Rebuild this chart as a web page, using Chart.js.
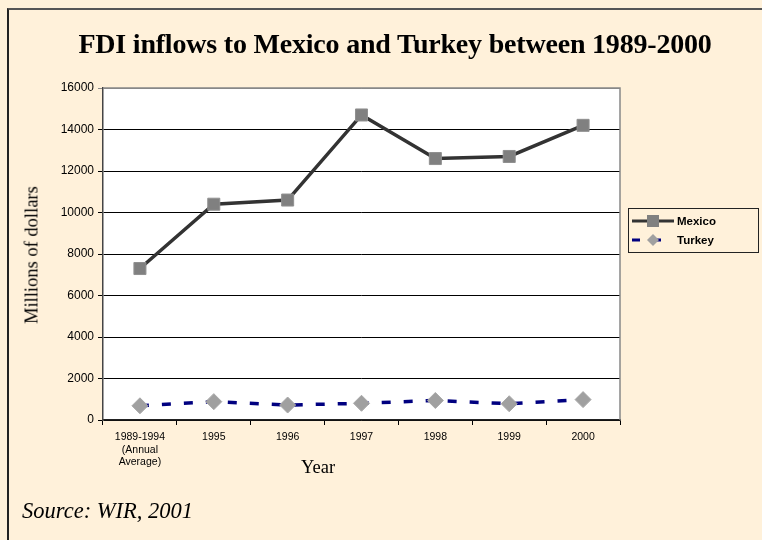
<!DOCTYPE html>
<html>
<head>
<meta charset="utf-8">
<script src="https://cdn.jsdelivr.net/npm/chart.js@4.4.1/dist/chart.umd.min.js"></script>
<style>
  html, body { margin: 0; padding: 0; }
  body { width: 762px; height: 540px; background: #FFF1DA; position: relative; overflow: hidden; }
  #frame { position: absolute; left: 7px; top: 8px; width: 800px; height: 600px;
           border-top: 2px solid #555; border-left: 2px solid #222; }
  #chart { position: absolute; left: 0; top: 0; }
  .txt { position: absolute; font-family: "Liberation Serif", "Times New Roman", serif; color: #000; white-space: nowrap; }
  #title { left: 0; width: 790px; text-align: center; top: 28px; font-size: 28px; font-weight: bold; letter-spacing: -0.2px; }
  #ytitle { left: 32px; top: 255px; font-size: 18.5px; transform: translate(-50%, -50%) rotate(-90deg); }
  #xtitle { left: 318px; top: 467px; font-size: 18.5px; transform: translate(-50%, -50%); }
  #source { left: 22px; top: 498px; font-size: 22.5px; font-style: italic; }
  #legend { position: absolute; left: 628px; top: 208px; width: 129px; height: 43px;
            border: 1px solid #222; font-family: "Liberation Sans", Arial, sans-serif;
            font-size: 11.5px; font-weight: bold; }
  #legend .row { position: absolute; left: 3px; height: 16px; display: flex; align-items: center; }
  #legend svg { display: block; margin-right: 3px; }
</style>
</head>
<body>
<div id="frame"></div>
<canvas id="chart" width="762" height="540"></canvas>
<div class="txt" id="title">FDI inflows to Mexico and Turkey between 1989-2000</div>
<div class="txt" id="ytitle">Millions of dollars</div>
<div class="txt" id="xtitle">Year</div>
<div class="txt" id="source">Source: WIR, 2001</div>
<div id="legend">
  <div class="row" style="top:4px;">
    <svg width="42" height="14"><line x1="0" y1="7" x2="42" y2="7" stroke="#333" stroke-width="3"/><rect x="15" y="1" width="12" height="12" fill="#808080"/></svg>
    <span>Mexico</span>
  </div>
  <div class="row" style="top:23px;">
    <svg width="42" height="14"><line x1="0" y1="7" x2="42" y2="7" stroke="#000080" stroke-width="3" stroke-dasharray="8,13"/><polygon points="21,1 27,7 21,13 15,7" fill="#A0A0A0"/></svg>
    <span>Turkey</span>
  </div>
</div>
<script>
// chart data
const categories = [['1989-1994', '(Annual', 'Average)'], '1995', '1996', '1997', '1998', '1999', '2000'];
const mexico = [7300, 10400, 10600, 14700, 12600, 12700, 14200];
const turkey = [684, 885, 722, 805, 940, 783, 982];
const yMin = 0;
const yMax = 16000;
const yStep = 2000;

// white plot area with a grey frame
const plotArea = {
  id: 'plotArea',
  beforeDraw(chart) {
    const { ctx, chartArea: a } = chart;
    ctx.save();
    ctx.fillStyle = '#fff';
    ctx.fillRect(a.left, a.top, a.right - a.left, a.bottom - a.top);
    ctx.restore();
  },
  beforeDatasetsDraw(chart) {
    const { ctx, chartArea: a } = chart;
    ctx.save();
    ctx.strokeStyle = '#888';
    ctx.lineWidth = 1.5;
    ctx.beginPath();
    ctx.moveTo(a.left, a.top);
    ctx.lineTo(a.right, a.top);
    ctx.lineTo(a.right, a.bottom);
    ctx.stroke();
    ctx.restore();
  }
};

const tickFont = { family: '"Liberation Sans", Arial, sans-serif', size: 12 };

new Chart(document.getElementById('chart'), {
  type: 'line',
  data: {
    labels: categories,
    datasets: [
      {
        label: 'Mexico',
        data: mexico,
        borderColor: '#333333',
        borderWidth: 3.5,
        pointStyle: 'rect',
        pointRadius: 8.5,
        pointBackgroundColor: '#808080',
        pointBorderColor: '#909090',
        pointBorderWidth: 1,
        tension: 0
      },
      {
        label: 'Turkey',
        data: turkey,
        borderColor: '#000080',
        borderWidth: 3.5,
        borderDash: [9, 13],
        pointStyle: 'rectRot',
        pointRadius: 8,
        pointBackgroundColor: '#A0A0A0',
        pointBorderColor: '#A8A8A8',
        pointBorderWidth: 1,
        tension: 0
      }
    ]
  },
  options: {
    responsive: false,
    animation: false,
    layout: { padding: { top: 88, right: 142, left: 0, bottom: 0 } },
    plugins: {
      legend: { display: false },
      title: { display: false },
      tooltip: { enabled: false }
    },
    scales: {
      x: {
        offset: true,
        afterFit(scale) { scale.height = 120; },
        grid: { offset: true, drawOnChartArea: false, tickLength: 5, color: '#000' },
        border: { color: '#222', width: 1.5 },
        ticks: { font: { ...tickFont, size: 10.5 }, color: '#000', maxRotation: 0, autoSkip: false, padding: 6 }
      },
      y: {
        min: yMin,
        max: yMax,
        afterFit(scale) { scale.width = 103; },
        grid: {
          tickLength: 5,
          color: ctx => (ctx.tick && ctx.tick.value === yMax ? '#888' : '#000'),
          lineWidth: 1
        },
        border: { color: '#444', width: 1.5 },
        ticks: { stepSize: yStep, font: tickFont, color: '#000', padding: 4, callback: v => String(v) }
      }
    }
  },
  plugins: [plotArea]
});
</script>
</body>
</html>
